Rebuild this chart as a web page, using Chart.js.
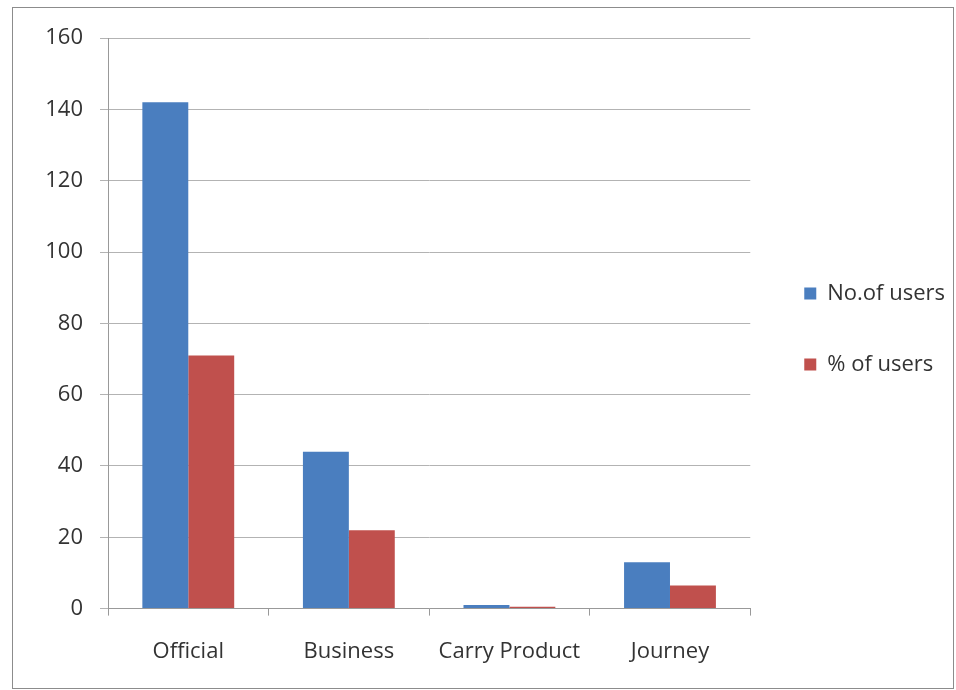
<!DOCTYPE html>
<html>
<head>
<meta charset="utf-8">
<script src="https://cdn.jsdelivr.net/npm/chart.js@4/dist/chart.umd.min.js"></script>
<style>
  body { margin: 0; background: #fff; }
  #wrap { position: absolute; left: 12px; top: 7px; width: 940px; height: 680px; border: 1px solid #8c8c8c; }
</style>
</head>
<body>
<div id="wrap"><canvas id="c" width="940" height="680"></canvas></div>
<script>
// data
const categories = ["Official", "Business", "Carry Product", "Journey"];
const noOfUsers = [142, 44, 1, 13];
const pctOfUsers = [71, 22, 0.5, 6.5];
const yTicks = [0, 20, 40, 60, 80, 100, 120, 140, 160];

const labelFont = { family: "Open Sans", size: 22 };

// nudge the legend a bit to the right of where chart.js puts it
const legendShift = {
  id: "legendShift",
  afterLayout(chart) {
    chart.legend.left += 5;
    chart.legend.right += 5;
  }
};

const ctx = document.getElementById("c").getContext("2d");
new Chart(ctx, {
  type: "bar",
  data: {
    labels: categories,
    datasets: [
      { label: "No.of users", data: noOfUsers, backgroundColor: "#4a7ebf" },
      { label: "% of users", data: pctOfUsers, backgroundColor: "#c0504d" }
    ]
  },
  options: {
    responsive: false,
    animation: false,
    layout: { padding: { top: 25, right: 3, bottom: 0, left: 0 } },
    datasets: { bar: { categoryPercentage: 0.572, barPercentage: 1 } },
    plugins: {
      legend: {
        position: "right",
        align: "start",
        // empty title only used to push the items down to mid height
        title: { display: true, text: "", font: { size: 12 }, padding: { top: 186, bottom: 0 } },
        labels: {
          boxWidth: 12, boxHeight: 12, padding: 49,
          color: "#333", font: labelFont
        }
      },
      tooltip: { enabled: false }
    },
    scales: {
      x: {
        grid: { offset: true, drawOnChartArea: false, drawTicks: true, tickLength: 7, color: "#999" },
        border: { color: "#999" },
        ticks: { color: "#333", font: labelFont, padding: 23 }
      },
      y: {
        min: 0, max: 160,
        afterBuildTicks: (axis) => { axis.ticks = yTicks.map(v => ({ value: v })); },
        afterFit: (axis) => { axis.width = 95; },
        grid: { color: "#b3b3b3", tickLength: 8 },
        border: { color: "#999" },
        ticks: { color: "#333", font: labelFont, padding: 17 }
      }
    }
  },
  plugins: [legendShift]
});
</script>
</body>
</html>
